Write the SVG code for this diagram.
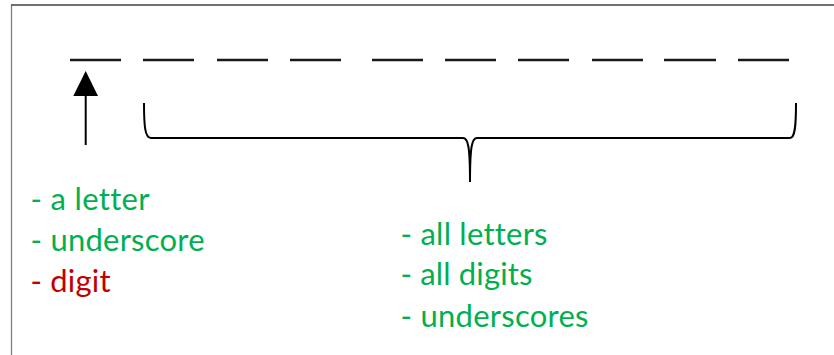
<svg xmlns="http://www.w3.org/2000/svg" width="834" height="355" viewBox="0 0 834 355">
<style>
.dash{stroke:#1a1a1a;stroke-width:2.6;fill:none}
.ln{stroke:#000;stroke-width:2;fill:none}
.t{font-family:Lato,"Open Sans","Liberation Sans",sans-serif;font-size:31px;font-variant-ligatures:none;font-feature-settings:"liga" 0,"clig" 0}
.g{fill:#00B050}
.r{fill:#C00000}
</style>
<rect x="0" y="0" width="834" height="355" fill="#fff"/>
<g id="frame">
<line x1="11.5" y1="5" x2="11.5" y2="355" stroke="#808080" stroke-width="1.3"/>
<line x1="11" y1="5" x2="834" y2="5" stroke="#404040" stroke-width="1.3"/>
</g>
<g id="slots">
<line class="dash" x1="70" y1="60" x2="121" y2="60"/>
<line class="dash" x1="143" y1="60" x2="194" y2="60"/>
<line class="dash" x1="217" y1="60" x2="268" y2="60"/>
<line class="dash" x1="290" y1="60" x2="341" y2="60"/>
<line class="dash" x1="372" y1="60" x2="423" y2="60"/>
<line class="dash" x1="445" y1="60" x2="496" y2="60"/>
<line class="dash" x1="518" y1="60" x2="569" y2="60"/>
<line class="dash" x1="592" y1="60" x2="643" y2="60"/>
<line class="dash" x1="664" y1="60" x2="716" y2="60"/>
<line class="dash" x1="738" y1="60" x2="789" y2="60"/>
</g>
<g id="connectors">
<path d="M85.7,145 L85.7,96" class="ln"/>
<path d="M73.3,96 L98,96 L85.7,71 z" fill="#000"/>
<path class="ln" d="M144,103 C144,126 145,138 151,138 L463,138 C468,138 470,146 470,182 C470,146 472,138 477,138 L790,138 C795,138 796,126 796,103"/>
</g>
<g id="first-char">
<text class="t g" x="30.5" y="210" textLength="119">- a letter</text>
<text class="t g" x="30.5" y="251" textLength="174">- underscore</text>
<text class="t r" x="30.5" y="291.5" textLength="80">- digit</text>
</g>
<g id="other-chars">
<text class="t g" x="400.5" y="245" textLength="147">- all letters</text>
<text class="t g" x="400.5" y="285" textLength="132">- all digits</text>
<text class="t g" x="400.5" y="326.5" textLength="188">- underscores</text>
</g>
</svg>
